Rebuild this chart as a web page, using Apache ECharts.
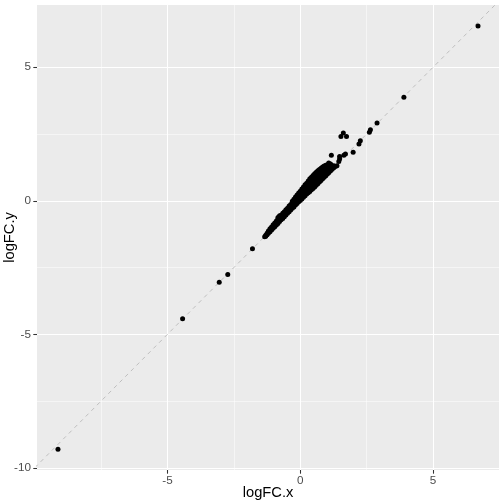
<!DOCTYPE html>
<html>
<head>
<meta charset="utf-8">
<script src="https://cdn.jsdelivr.net/npm/echarts@6/dist/echarts.min.js"></script>
<style>html,body{margin:0;padding:0;background:#fff;}#c{width:504px;height:504px;}</style>
</head>
<body>
<div id="c"></div>
<script>
// Dense core band of points (logFC.x, logFC.y)
const bandX = [
 -1.34,
 -1.30,-1.30,
 -1.25,-1.25,
 -1.20,-1.20,-1.20,
 -1.14,-1.14,-1.14,
 -1.08,-1.08,-1.08,
 -1.02,-1.02,-1.02,
 -0.96,-0.96,-0.96,
 -0.90,-0.90,-0.90,
 -0.84,-0.84,-0.84,
 -0.78,-0.78,-0.78,
 -0.72,-0.72,-0.72,
 -0.66,-0.66,-0.66,
 -0.60,-0.60,-0.60,
 -0.54,-0.54,-0.54,
 -0.48,-0.48,-0.48,
 -0.42,-0.42,-0.42,
 -0.36,-0.36,-0.36,
 -0.30,-0.30,-0.30,
 -0.24,-0.24,-0.24,
 -0.18,-0.18,-0.18,
 -0.12,-0.12,-0.12,
 -0.06,-0.06,-0.06,
 0.00,0.00,0.00,
 0.06,0.06,0.06,
 0.12,0.12,0.12,
 0.18,0.18,0.18,
 0.24,0.24,0.24,
 0.30,0.30,0.30,
 0.36,0.36,0.36,
 0.42,0.42,0.42,
 0.48,0.48,0.48,
 0.54,0.54,0.54,
 0.60,0.60,0.60,
 0.66,0.66,0.66,
 0.72,0.72,0.72,
 0.78,0.78,0.78,
 0.84,0.84,0.84,
 0.90,0.90,0.90,
 0.96,0.96,0.96,
 1.02,1.02,1.02,
 1.08,1.08,1.08,
 1.14,1.14,1.14,
 1.20,1.20,
 1.26,1.26,
 1.32
];
const bandY = [
 -1.35,
 -1.33,-1.29,
 -1.27,-1.22,
 -1.22,-1.17,-1.13,
 -1.16,-1.10,-1.05,
 -1.09,-1.03,-0.98,
 -1.03,-0.96,-0.90,
 -0.97,-0.90,-0.83,
 -0.91,-0.83,-0.76,
 -0.85,-0.77,-0.68,
 -0.78,-0.70,-0.61,
 -0.71,-0.62,-0.54,
 -0.66,-0.56,-0.47,
 -0.60,-0.50,-0.41,
 -0.53,-0.44,-0.34,
 -0.47,-0.37,-0.28,
 -0.41,-0.31,-0.20,
 -0.35,-0.24,-0.14,
 -0.28,-0.18,-0.07,
 -0.23,-0.11,0.00,
 -0.16,-0.04,0.07,
 -0.10,0.02,0.14,
 -0.04,0.08,0.20,
 0.01,0.15,0.28,
 0.07,0.21,0.35,
 0.13,0.28,0.42,
 0.19,0.34,0.49,
 0.25,0.40,0.55,
 0.30,0.46,0.62,
 0.35,0.52,0.70,
 0.41,0.59,0.76,
 0.46,0.65,0.83,
 0.52,0.71,0.90,
 0.58,0.77,0.96,
 0.64,0.82,1.00,
 0.70,0.87,1.04,
 0.76,0.92,1.08,
 0.82,0.96,1.11,
 0.88,1.01,1.14,
 0.94,1.06,1.18,
 1.00,1.10,1.22,
 1.06,1.14,1.26,
 1.12,1.20,1.29,
 1.18,1.26,
 1.24,1.31,
 1.28
];
// Upper edge of the core band (points lying above the main ridge)
const bandUpperX = [-0.84, -0.78, -0.30, -0.24, -0.18, -0.12, -0.06, 0.00, 0.06, 0.12, 0.18, 0.24, 0.30, 0.36, 0.42, 0.48, 0.54, 0.60, 0.66, 0.72, 0.78, 0.84, 0.90, 0.96, 1.02, 1.08, 1.14];
const bandUpperY = [-0.63, -0.56, -0.02, 0.06, 0.14, 0.22, 0.29, 0.36, 0.44, 0.52, 0.60, 0.66, 0.74, 0.82, 0.88, 0.95, 1.01, 1.07, 1.12, 1.17, 1.22, 1.26, 1.30, 1.33, 1.35, 1.37, 1.38];
// Sparse points away from the core
const tailX = [-9.12, -4.43, -3.05, -2.73, -1.80, 1.07, 1.17, 1.26, 1.38, 1.45, 1.48, 1.48, 1.53, 1.62, 1.64, 1.70, 1.74, 1.99, 2.21, 2.26, 2.60, 2.64, 2.89, 3.90, 6.69];
const tailY = [-9.30, -4.42, -3.05, -2.76, -1.80, 1.41, 1.70, 1.29, 1.31, 1.47, 1.56, 1.66, 2.41, 2.54, 1.70, 1.75, 2.41, 1.82, 2.13, 2.25, 2.57, 2.66, 2.91, 3.88, 6.54];

// Axis setup
const xRange = [-9.91, 7.48];
const yRange = [-10.08, 7.33];
const xMajor = [-5, 0, 5];
const xMinor = [-7.5, -2.5, 2.5];
const yMajor = [-10, -5, 0, 5];
const yMinor = [-7.5, -2.5, 2.5];
const refLine = [-10.2, 7.6]; // y = x identity line endpoints

const pairs = (xs, ys) => xs.map((x, i) => [x, ys[i]]);
const points = pairs(bandX, bandY).concat(pairs(bandUpperX, bandUpperY), pairs(tailX, tailY));

const FONT = 'Liberation Sans, Arial, sans-serif';
const chart = echarts.init(document.getElementById('c'), null, {renderer: 'canvas'});

function majorAxis(range, vals, pos, extra) {
  return Object.assign({
    type: 'value', min: range[0], max: range[1], position: pos,
    axisLine: {show: false, onZero: false},
    axisTick: {show: true, length: 3.7, customValues: vals, lineStyle: {color: '#333333', width: 1.07}},
    splitLine: {show: true, lineStyle: {color: '#FFFFFF', width: 1.07}},
    nameMoveOverlap: false,
    nameTextStyle: {color: '#000000', fontSize: 14.7, fontFamily: FONT}
  }, extra);
}
function minorAxis(range, vals, pos) {
  return {
    type: 'value', min: range[0], max: range[1], position: pos,
    axisLine: {show: false, onZero: false},
    axisTick: {show: false, customValues: vals},
    axisLabel: {show: false, customValues: vals},
    splitLine: {show: true, lineStyle: {color: '#FFFFFF', width: 0.53}}
  };
}

chart.setOption({
  animation: false,
  backgroundColor: '#FFFFFF',
  grid: {left: 37, right: 5, top: 5, bottom: 34, show: true, backgroundColor: '#EBEBEB', borderWidth: 0,
         containLabel: false, outerBoundsMode: 'none'},
  xAxis: [
    minorAxis(xRange, xMinor, 'bottom'),
    majorAxis(xRange, xMajor, 'bottom', {name: 'logFC.x', nameLocation: 'middle', nameGap: 15,
      axisLabel: {customValues: xMajor, color: '#4D4D4D', fontSize: 11.7, fontFamily: FONT, margin: 5}})
  ],
  yAxis: [
    minorAxis(yRange, yMinor, 'left'),
    majorAxis(yRange, yMajor, 'left', {name: 'logFC.y', nameLocation: 'middle', nameGap: 20,
      axisLabel: {customValues: yMajor, color: '#4D4D4D', fontSize: 11.7, fontFamily: FONT, margin: 6}})
  ],
  series: [
    {
      type: 'line', xAxisIndex: 1, yAxisIndex: 1,
      data: [[refLine[0], refLine[0]], [refLine[1], refLine[1]]],
      symbol: 'none', clip: true, silent: true, z: 2,
      lineStyle: {color: '#BEBEBE', width: 1, type: [4, 4]}
    },
    {
      type: 'scatter', xAxisIndex: 1, yAxisIndex: 1,
      data: points, symbol: 'circle', symbolSize: 5, z: 3,
      itemStyle: {color: '#000000', opacity: 1}
    }
  ]
});
</script>
</body>
</html>
